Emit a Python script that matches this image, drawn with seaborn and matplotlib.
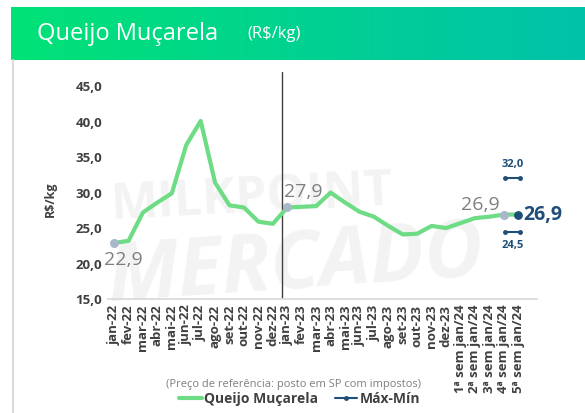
import seaborn as sns
import matplotlib.pyplot as plt
import numpy as np
import pandas as pd
from matplotlib.lines import Line2D

sns.set_theme(style='white')
plt.rcParams['font.family'] = ['Open Sans', 'DejaVu Sans']

# dados
meses = ["jan-22", "fev-22", "mar-22", "abr-22", "mai-22", "jun-22", "jul-22", "ago-22",
         "set-22", "out-22", "nov-22", "dez-22", "jan-23", "fev-23", "mar-23", "abr-23",
         "mai-23", "jun-23", "jul-23", "ago-23", "set-23", "out-23", "nov-23", "dez-23",
         "1ª sem jan/24", "2ª sem jan/24", "3ª sem jan/24", "4ª sem jan/24", "5ª sem jan/24"]
precos = [22.9, 23.2, 27.2, 28.6, 29.9, 36.7, 40.1, 31.4, 28.2, 27.9, 25.9, 25.6,
          27.9, 28.0, 28.1, 30.0, 28.6, 27.3, 26.6, 25.3, 24.1, 24.2, 25.3, 25.0,
          25.7, 26.4, 26.6, 26.9, 26.9]
destaques = ["jan-22", "jan-23", "4ª sem jan/24"]
maximo = 32.0
minimo = 24.5

df = pd.DataFrame({"mes": meses, "preco": precos})
df["x"] = np.arange(len(df))

verde = "#6ddc84"
azul = "#1f4e79"
cinza = "#7f7f7f"

fig = plt.figure(figsize=(5.85, 4.13), dpi=100)

# borda esquerda clara
fig.add_artist(Line2D([12.5 / 585, 12.5 / 585], [0, 1 - 60 / 413], color='#dcdcdc', linewidth=1.5))

# faixa do titulo com degrade
hdr = fig.add_axes([11 / 585, 1 - 60 / 413, 1 - 11 / 585, 53 / 413])
grad = np.linspace(0, 1, 256).reshape(1, -1, 1)
c1 = np.array([0, 226, 118]) / 255
c2 = np.array([0, 194, 170]) / 255
hdr.imshow(c1 + (c2 - c1) * grad, aspect='auto', extent=[0, 1, 0, 1])
hdr.set_axis_off()
hdr.text(26 / 574, 0.5, "Queijo Muçarela", color='white', fontsize=17, va='center', ha='left')
hdr.text(236 / 574, 0.5, "(R$/kg)", color='white', fontsize=12, va='center', ha='left')

ax = fig.add_axes([108 / 585, 1 - 299 / 413, 429 / 585, 227 / 413])

# marca d'agua
ax.text(-0.3, 29.2, "MILKPOINT", fontsize=36, fontweight='bold', color='#f3f3f3',
        rotation=3, zorder=0, ha='left', va='center')
ax.text(-0.6, 19.5, "MERCADO", fontsize=58, fontweight='bold', color='#f3f3f3',
        rotation=4, zorder=0, ha='left', va='center', fontstyle='italic')

sns.lineplot(data=df, x="x", y="preco", color=verde, linewidth=3, ax=ax, zorder=3)

# pontos rotulados
dd = df[df["mes"].isin(destaques)]
ax.scatter(dd["x"], dd["preco"], s=30, color='#a9b8c8', zorder=4)
offs = [(6.5, -12), (11.5, 11), (-17, 7)]
for (_, r), (dx, dy) in zip(dd.iterrows(), offs):
    ax.annotate(f"{r['preco']:.1f}".replace(".", ","), (r["x"], r["preco"]),
                xytext=(dx, dy), textcoords='offset points', ha='center', va='center',
                fontsize=14, color=cinza)

# ultimo ponto e max-min
ult = df.iloc[-1]
ax.scatter([ult["x"]], [ult["preco"]], s=28, color=azul, zorder=5)
ax.annotate(f"{ult['preco']:.1f}".replace(".", ","), (ult["x"], ult["preco"]),
            xytext=(3.5, 0), textcoords='offset points', ha='left', va='center',
            fontsize=14, fontweight='bold', color=azul)
xm = ult["x"] - 0.4
for v in [maximo, minimo]:
    ax.plot([xm - 0.55, xm + 0.55], [v, v], color=azul, linewidth=1.5,
            marker='o', markersize=2.5, zorder=5)
ax.text(xm, maximo + 1.2, f"{maximo:.1f}".replace(".", ","), ha='center', va='bottom',
        fontsize=8, fontweight='bold', color=azul)
ax.text(xm, minimo - 1.2, f"{minimo:.1f}".replace(".", ","), ha='center', va='top',
        fontsize=8, fontweight='bold', color=azul)

ax.axvline(11.6, color='#404040', linewidth=1, zorder=2)

ax.set_xlim(-0.42, 29.3)
ax.set_ylim(15, 47)
ax.set_yticks(np.arange(15, 46, 5))
ax.set_yticklabels([f"{v:.1f}".replace(".", ",") for v in np.arange(15, 46, 5)],
                   fontsize=9.5, fontweight='bold', color='#404040')
ax.set_xticks(df["x"])
ax.set_xticklabels(meses, rotation=90, fontsize=9.5, fontweight='bold', color='#404040')
ax.tick_params(axis='both', length=0, pad=4)
ax.set_xlabel("")
ax.set_ylabel("R$/kg", fontsize=9, fontweight='bold', color='#404040')
ax.yaxis.set_label_coords(-0.12, 0.44)
sns.despine(ax=ax, left=True, top=True, right=True)
ax.spines['bottom'].set_color('#d9d9d9')
ax.grid(False)

fig.text(293 / 585, 1 - 384 / 413, "(Preço de referência: posto em SP com impostos)",
         ha='center', va='center', fontsize=8, color=cinza)

# legenda
hl = [Line2D([], [], color=verde, linewidth=3),
      Line2D([], [], color=azul, linewidth=1.5, marker='o', markersize=2.5)]
leg = fig.legend(hl, ["Queijo Muçarela", "Máx-Mín"], loc='center', ncol=2,
                 bbox_to_anchor=(300 / 585, 1 - 399 / 413), frameon=False,
                 handlelength=1.6, handletextpad=0.2, columnspacing=1.2,
                 prop={'size': 10, 'weight': 'bold'})
for t in leg.get_texts():
    t.set_color('#404040')

fig.savefig("out.png", dpi=100)
